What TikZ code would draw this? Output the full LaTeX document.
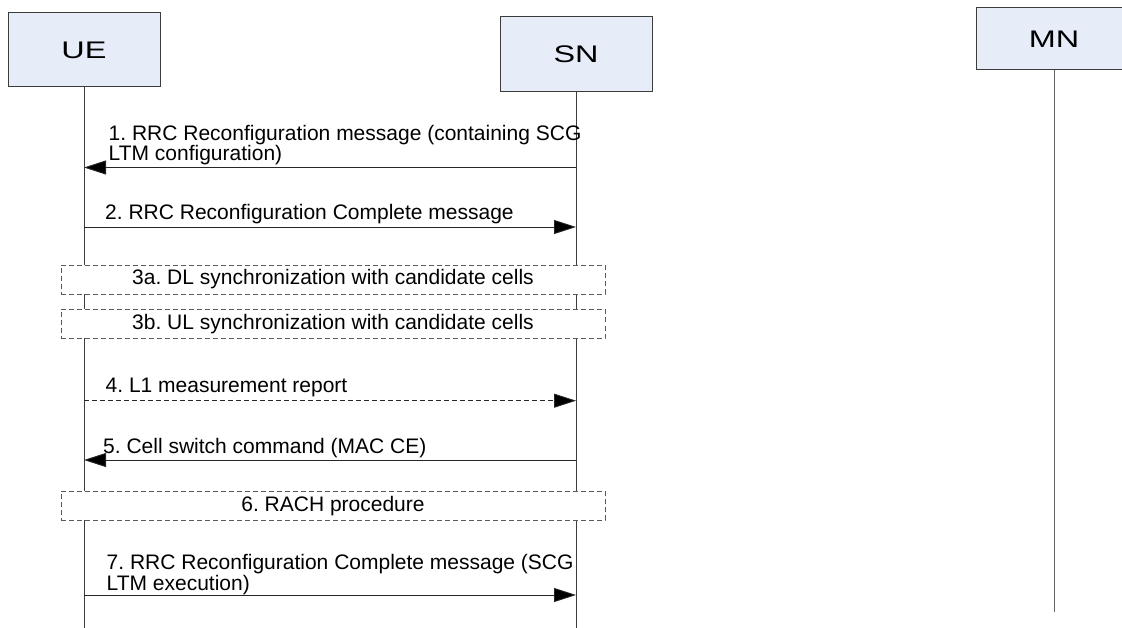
\documentclass[tikz,border=0pt]{standalone}
\usepackage{fontspec}
\setmainfont{Liberation Sans}
\newfontfamily\hdrfont{Liberation Sans}[FakeStretch=1.35]
\usetikzlibrary{arrows.meta}
\definecolor{boxblue}{RGB}{230,236,248}
\definecolor{linegray}{RGB}{60,60,60}
\definecolor{dashgray}{RGB}{90,90,90}
\frenchspacing
\begin{document}
\begin{tikzpicture}[x=1pt,y=-1pt,
  actor/.style={draw=linegray, fill=boxblue, line width=1pt, minimum width=152pt,
                inner sep=0pt, font=\hdrfont\fontsize{24}{24}\selectfont},
  life/.style={draw=linegray, line width=0.9pt},
  msg/.style={draw=black!85, line width=0.9pt, -{Triangle[length=22pt,width=14pt,fill=black]}},
  msgd/.style={msg, dash pattern=on 5pt off 3pt},
  phase/.style={draw=dashgray, fill=white, dash pattern=on 5pt off 3pt, line width=0.9pt,
                minimum width=544pt, minimum height=29pt, inner sep=0pt,
                font=\fontsize{21}{21}\selectfont, text height=15pt, text depth=4pt},
  lbl/.style={font=\fontsize{21}{21}\selectfont, inner sep=0pt, anchor=base west}
]
\useasboundingbox (0,0) rectangle (1122,628);

% actors
\node[actor, minimum height=74pt] (UE) at (84,50) {UE};
\node[actor, minimum height=75pt] (SN) at (576,54.5) {SN};
\node[actor, minimum height=62pt, minimum width=156pt] (MN) at (1054,39) {MN};

% lifeline ends
\coordinate (UEend) at (84,628);
\coordinate (SNend) at (576,628);
\coordinate (MNend) at (1054,612);
\draw[life] (UE) -- (UEend);
\draw[life] (SN) -- (SNend);
\draw[life, draw=black!60] (MN) -- (MNend);

% message end points
\coordinate (m1s) at (576,167.5); \coordinate (m1e) at (84,167.5);
\coordinate (m2s) at (84,227);    \coordinate (m2e) at (576,227);
\coordinate (m4s) at (84,400.7);  \coordinate (m4e) at (576,400.7);
\coordinate (m5s) at (576,460);   \coordinate (m5e) at (84,460);
\coordinate (m7s) at (84,595);    \coordinate (m7e) at (576,595);

% 1
\draw[msg] (m1s) -- (m1e);
\node[lbl] (l1a) at (108.5,140.5) {1. RRC Reconfiguration message (containing SCG};
\node[lbl] (l1b) at (108.5,161) {LTM configuration)};
% 2
\draw[msg] (m2s) -- (m2e);
\node[lbl] (l2) at (105,219.5) {2. RRC Reconfiguration Complete message};
% 3a, 3b
\node[phase] (p3a) at (333,279.5) {3a. DL synchronization with candidate cells};
\node[phase] (p3b) at (333,324) {3b. UL synchronization with candidate cells};
% 4
\draw[msgd] (m4s) -- (m4e);
\node[lbl] (l4) at (105.5,392.5) {4. L1 measurement report};
% 5
\draw[msg] (m5s) -- (m5e);
\node[lbl] (l5) at (103,453) {5. Cell switch command (MAC CE)};
% 6
\node[phase] (p6) at (333,505.5) {6. RACH procedure};
% 7
\draw[msg] (m7s) -- (m7e);
\node[lbl] (l7a) at (106.5,569) {7. RRC Reconfiguration Complete message (SCG};
\node[lbl] (l7b) at (106.5,590.5) {LTM execution)};
\end{tikzpicture}
\end{document}
